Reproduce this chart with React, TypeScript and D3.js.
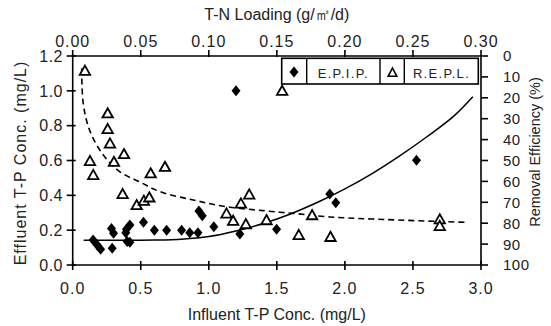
import React from "react";
import * as d3 from "d3";

// Bottom axis: Influent T-P Conc. (mg/L)
const bottomTicks = [0, 0.5, 1.0, 1.5, 2.0, 2.5, 3.0];
// Top axis: T-N Loading (g/m2/d)
const topTicks = [0, 0.05, 0.1, 0.15, 0.2, 0.25, 0.3];
// Left axis: Effluent T-P Conc.
const leftTicks = [0, 0.2, 0.4, 0.6, 0.8, 1.0, 1.2];
// Right axis: Removal Efficiency (%)
const rightTicks = [0, 10, 20, 30, 40, 50, 60, 70, 80, 90, 100];

// E.P.I.P. (diamonds) — influent TP vs effluent TP
const epipX = [0.15, 0.18, 0.205, 0.285, 0.3, 0.29, 0.42, 0.395, 0.39, 0.4, 0.42, 0.52, 0.6, 0.69, 0.8, 0.86, 0.92, 0.927, 0.952, 1.037, 1.2, 1.228, 1.498, 1.889, 1.933, 2.526];
const epipY = [0.143, 0.115, 0.09, 0.21, 0.182, 0.096, 0.23, 0.205, 0.185, 0.135, 0.13, 0.245, 0.2, 0.2, 0.2, 0.185, 0.185, 0.31, 0.283, 0.22, 1.0, 0.178, 0.205, 0.407, 0.357, 0.602];

// R.E.P.L. (triangles) — influent TP vs removal efficiency (%)
const replX = [0.09, 0.127, 0.151, 0.257, 0.257, 0.274, 0.303, 0.377, 0.367, 0.47, 0.523, 0.563, 0.573, 0.678, 1.13, 1.179, 1.236, 1.297, 1.272, 1.424, 1.539, 1.661, 1.759, 1.894, 2.697, 2.697];
const replY = [7, 50.2, 56.9, 27.4, 34.9, 41.8, 50.6, 46.9, 66, 71.3, 69.2, 67.6, 56.1, 53, 75.3, 78.8, 70.5, 66.2, 80.4, 78.5, 16.6, 85.6, 76.1, 86.5, 78.1, 81.3];

// Fitted trend of E.P.I.P.
const fitEpipX = [0.08, 0.4, 0.6, 0.8, 1.0, 1.2, 1.4, 1.6, 1.8, 2.0, 2.2, 2.4, 2.6, 2.8, 2.94];
const fitEpipY = [0.142, 0.142, 0.143, 0.148, 0.163, 0.195, 0.238, 0.293, 0.36, 0.437, 0.525, 0.625, 0.735, 0.855, 0.966];

// Fitted trend of R.E.P.L.
const fitReplX = [0.066, 0.078, 0.127, 0.225, 0.347, 0.5, 0.641, 0.886, 1.13, 1.4, 1.62, 1.865, 2.2, 2.89];
const fitReplY = [6, 23, 36, 47.4, 55.4, 60.5, 64.9, 68.9, 72.1, 74, 75.3, 76.9, 78, 79.6];

const W = 551;
const H = 326;
const L = 72.7, R = 481, T = 56, B = 265;
const FONT = "'Liberation Sans', Arial, sans-serif";

export default function App() {
  const x = d3.scaleLinear().domain([0, 3]).range([L, R]);
  const xTop = d3.scaleLinear().domain([0, 0.3]).range([L, R]);
  const y = d3.scaleLinear().domain([0, 1.2]).range([B, T]);
  const yR = d3.scaleLinear().domain([0, 100]).range([T, B]);

  const fmt1 = d3.format(".1f");
  const fmt2 = d3.format(".2f");

  const solid = d3
    .line<number>()
    .x((_, i) => x(fitEpipX[i]))
    .y((d) => y(d))
    .curve(d3.curveCatmullRom)(fitEpipY) as string;
  const dashed = d3
    .line<number>()
    .x((_, i) => x(fitReplX[i]))
    .y((d) => yR(d))
    .curve(d3.curveCatmullRom)(fitReplY) as string;

  const diamond = "M0,-5.5L4.5,0L0,5.5L-4.5,0Z";
  const tri = "M0,-5L5.2,4.2L-5.2,4.2Z";

  const sw = 1.6;

  return (
    <svg
      width={W}
      height={H}
      style={{ position: "absolute", left: 0, top: 0, background: "#fff" }}
      fontFamily={FONT}
    >
      <rect x={0} y={0} width={W} height={H} fill="#fff" />
      {/* Frame */}
      <g stroke="#000" strokeWidth={sw} fill="none">
        <line x1={L} y1={T} x2={R} y2={T} />
        <line x1={L} y1={B} x2={R} y2={B} />
        <line x1={L} y1={T} x2={L} y2={B} />
        <line x1={R} y1={T} x2={R} y2={B} />
      </g>

      {/* Bottom axis */}
      {bottomTicks.map((t) => (
        <g key={"b" + t}>
          <line x1={x(t)} x2={x(t)} y1={B - 4} y2={B + 5} stroke="#000" strokeWidth={sw} />
          <text x={x(t)} y={294} textAnchor="middle" fontSize={16} letterSpacing={1} fill="#222">
            {fmt1(t)}
          </text>
        </g>
      ))}
      <text x={(L + R) / 2} y={320} textAnchor="middle" fontSize={16} fill="#222">
        Influent T-P Conc. (mg/L)
      </text>

      {/* Top axis */}
      {topTicks.map((t) => (
        <g key={"t" + t}>
          <line x1={xTop(t)} x2={xTop(t)} y1={T - 6} y2={T + 1} stroke="#000" strokeWidth={sw} />
          <text x={xTop(t)} y={47} textAnchor="middle" fontSize={16} letterSpacing={1} fill="#222">
            {fmt2(t)}
          </text>
        </g>
      ))}
      <text x={(L + R) / 2} y={20} textAnchor="middle" fontSize={16} fill="#222">
        T-N Loading (g/㎡/d)
      </text>

      {/* Left axis */}
      {leftTicks.map((t) => (
        <g key={"l" + t}>
          <line x1={L - 6} x2={L + 3} y1={y(t)} y2={y(t)} stroke="#000" strokeWidth={sw} />
          <text x={63} y={y(t)} dy="0.36em" textAnchor="end" fontSize={16} letterSpacing={0.5} fill="#222">
            {fmt1(t)}
          </text>
        </g>
      ))}
      <text
        transform={`translate(26,163) rotate(-90)`}
        textAnchor="middle"
        fontSize={16}
        letterSpacing={1}
        fill="#222"
      >
        Effluent T-P Conc. (mg/L)
      </text>

      {/* Right axis */}
      {rightTicks.map((t) => (
        <g key={"r" + t}>
          <line x1={R} x2={R + 7} y1={yR(t)} y2={yR(t)} stroke="#000" strokeWidth={sw} />
          <text x={503} y={yR(t)} dy="0.36em" textAnchor="start" fontSize={15} letterSpacing={0.5} fill="#222">
            {t}
          </text>
        </g>
      ))}
      <text
        transform={`translate(540,152) rotate(-90)`}
        textAnchor="middle"
        fontSize={14.5}
        fill="#222"
      >
        Removal Efficiency (%)
      </text>

      {/* Trend lines */}
      <path d={solid} fill="none" stroke="#000" strokeWidth={1.5} />
      <path d={dashed} fill="none" stroke="#000" strokeWidth={1.6} strokeDasharray="6,4" />

      {/* Triangles */}
      {replX.map((v, i) => (
        <path
          key={"tr" + i}
          d={tri}
          transform={`translate(${x(v)},${yR(replY[i])})`}
          fill="#fff"
          stroke="#000"
          strokeWidth={1.8}
        />
      ))}
      {/* Diamonds */}
      {epipX.map((v, i) => (
        <path key={"dm" + i} d={diamond} transform={`translate(${x(v)},${y(epipY[i])})`} fill="#000" />
      ))}

      {/* Legend */}
      <g>
        <rect x={281.7} y={58.3} width={196.6} height={25.7} fill="#fff" stroke="#000" strokeWidth={1.6} />
        <line x1={306.7} x2={306.7} y1={58.3} y2={84} stroke="#000" strokeWidth={1.4} />
        <line x1={380} x2={380} y1={58.3} y2={84} stroke="#000" strokeWidth={1.4} />
        <line x1={404.3} x2={404.3} y1={58.3} y2={84} stroke="#000" strokeWidth={1.4} />
        <path d={diamond} transform="translate(294,72)" fill="#000" />
        <text x={343.3} y={77.5} textAnchor="middle" fontSize={13} letterSpacing={1.3} fill="#222">
          E.P.I.P.
        </text>
        <path d="M0,-4.5L4.3,3.8L-4.3,3.8Z" transform="translate(392.5,72.5)" fill="#fff" stroke="#000" strokeWidth={1.6} />
        <text x={441.5} y={77.5} textAnchor="middle" fontSize={13} letterSpacing={1.3} fill="#222">
          R.E.P.L.
        </text>
      </g>
    </svg>
  );
}
